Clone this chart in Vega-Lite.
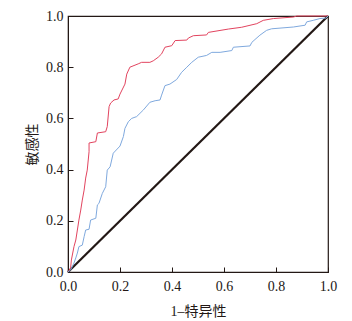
{
  "$schema": "https://vega.github.io/schema/vega-lite/v6.json",
  "width": 260,
  "height": 256,
  "autosize": {"type": "none"},
  "padding": {"left": 68, "top": 16, "right": 24, "bottom": 49},
  "background": "white",
  "config": {
    "view": {"stroke": "#231815", "strokeWidth": 1.2},
    "axis": {
      "labelFont": "Liberation Serif",
      "labelFontSize": 14,
      "labelColor": "#231815",
      "labelFlush": false,
      "labelOverlap": false,
      "titleFont": "Liberation Serif, Noto Sans CJK SC",
      "titleFontSize": 14,
      "titleFontWeight": "normal",
      "titleColor": "#231815",
      "domainColor": "#231815",
      "tickColor": "#231815",
      "grid": false
    }
  },
  "datasets": {
    "roc": [
      {"fpr": 0, "tpr": 0, "series": "A"},
      {"fpr": 0.010, "tpr": 0.016, "series": "A"},
      {"fpr": 0.013, "tpr": 0.047, "series": "A"},
      {"fpr": 0.023, "tpr": 0.099, "series": "A"},
      {"fpr": 0.030, "tpr": 0.125, "series": "A"},
      {"fpr": 0.036, "tpr": 0.164, "series": "A"},
      {"fpr": 0.042, "tpr": 0.203, "series": "A"},
      {"fpr": 0.049, "tpr": 0.242, "series": "A"},
      {"fpr": 0.055, "tpr": 0.281, "series": "A"},
      {"fpr": 0.062, "tpr": 0.320, "series": "A"},
      {"fpr": 0.068, "tpr": 0.367, "series": "A"},
      {"fpr": 0.074, "tpr": 0.398, "series": "A"},
      {"fpr": 0.081, "tpr": 0.470, "series": "A"},
      {"fpr": 0.081, "tpr": 0.504, "series": "A"},
      {"fpr": 0.107, "tpr": 0.509, "series": "A"},
      {"fpr": 0.113, "tpr": 0.543, "series": "A"},
      {"fpr": 0.145, "tpr": 0.548, "series": "A"},
      {"fpr": 0.151, "tpr": 0.568, "series": "A"},
      {"fpr": 0.158, "tpr": 0.646, "series": "A"},
      {"fpr": 0.164, "tpr": 0.660, "series": "A"},
      {"fpr": 0.177, "tpr": 0.672, "series": "A"},
      {"fpr": 0.193, "tpr": 0.676, "series": "A"},
      {"fpr": 0.200, "tpr": 0.695, "series": "A"},
      {"fpr": 0.219, "tpr": 0.734, "series": "A"},
      {"fpr": 0.226, "tpr": 0.773, "series": "A"},
      {"fpr": 0.238, "tpr": 0.800, "series": "A"},
      {"fpr": 0.270, "tpr": 0.813, "series": "A"},
      {"fpr": 0.283, "tpr": 0.819, "series": "A"},
      {"fpr": 0.315, "tpr": 0.819, "series": "A"},
      {"fpr": 0.328, "tpr": 0.825, "series": "A"},
      {"fpr": 0.347, "tpr": 0.839, "series": "A"},
      {"fpr": 0.360, "tpr": 0.852, "series": "A"},
      {"fpr": 0.373, "tpr": 0.878, "series": "A"},
      {"fpr": 0.399, "tpr": 0.884, "series": "A"},
      {"fpr": 0.412, "tpr": 0.904, "series": "A"},
      {"fpr": 0.457, "tpr": 0.906, "series": "A"},
      {"fpr": 0.463, "tpr": 0.914, "series": "A"},
      {"fpr": 0.482, "tpr": 0.923, "series": "A"},
      {"fpr": 0.533, "tpr": 0.926, "series": "A"},
      {"fpr": 0.540, "tpr": 0.936, "series": "A"},
      {"fpr": 0.617, "tpr": 0.949, "series": "A"},
      {"fpr": 0.668, "tpr": 0.956, "series": "A"},
      {"fpr": 0.726, "tpr": 0.970, "series": "A"},
      {"fpr": 0.751, "tpr": 0.983, "series": "A"},
      {"fpr": 0.790, "tpr": 0.990, "series": "A"},
      {"fpr": 0.867, "tpr": 0.996, "series": "A"},
      {"fpr": 0.880, "tpr": 1.0, "series": "A"},
      {"fpr": 1.0, "tpr": 1.0, "series": "A"},
      {"fpr": 0, "tpr": 0, "series": "B"},
      {"fpr": 0.010, "tpr": 0.008, "series": "B"},
      {"fpr": 0.023, "tpr": 0.035, "series": "B"},
      {"fpr": 0.030, "tpr": 0.055, "series": "B"},
      {"fpr": 0.036, "tpr": 0.074, "series": "B"},
      {"fpr": 0.042, "tpr": 0.099, "series": "B"},
      {"fpr": 0.055, "tpr": 0.105, "series": "B"},
      {"fpr": 0.062, "tpr": 0.138, "series": "B"},
      {"fpr": 0.068, "tpr": 0.164, "series": "B"},
      {"fpr": 0.081, "tpr": 0.167, "series": "B"},
      {"fpr": 0.087, "tpr": 0.203, "series": "B"},
      {"fpr": 0.107, "tpr": 0.210, "series": "B"},
      {"fpr": 0.113, "tpr": 0.262, "series": "B"},
      {"fpr": 0.119, "tpr": 0.268, "series": "B"},
      {"fpr": 0.132, "tpr": 0.307, "series": "B"},
      {"fpr": 0.145, "tpr": 0.333, "series": "B"},
      {"fpr": 0.151, "tpr": 0.398, "series": "B"},
      {"fpr": 0.162, "tpr": 0.411, "series": "B"},
      {"fpr": 0.174, "tpr": 0.464, "series": "B"},
      {"fpr": 0.200, "tpr": 0.492, "series": "B"},
      {"fpr": 0.213, "tpr": 0.529, "series": "B"},
      {"fpr": 0.219, "tpr": 0.561, "series": "B"},
      {"fpr": 0.232, "tpr": 0.587, "series": "B"},
      {"fpr": 0.245, "tpr": 0.600, "series": "B"},
      {"fpr": 0.264, "tpr": 0.607, "series": "B"},
      {"fpr": 0.277, "tpr": 0.620, "series": "B"},
      {"fpr": 0.290, "tpr": 0.633, "series": "B"},
      {"fpr": 0.315, "tpr": 0.663, "series": "B"},
      {"fpr": 0.335, "tpr": 0.669, "series": "B"},
      {"fpr": 0.354, "tpr": 0.672, "series": "B"},
      {"fpr": 0.360, "tpr": 0.691, "series": "B"},
      {"fpr": 0.373, "tpr": 0.728, "series": "B"},
      {"fpr": 0.392, "tpr": 0.734, "series": "B"},
      {"fpr": 0.418, "tpr": 0.752, "series": "B"},
      {"fpr": 0.437, "tpr": 0.780, "series": "B"},
      {"fpr": 0.457, "tpr": 0.800, "series": "B"},
      {"fpr": 0.476, "tpr": 0.819, "series": "B"},
      {"fpr": 0.501, "tpr": 0.839, "series": "B"},
      {"fpr": 0.533, "tpr": 0.846, "series": "B"},
      {"fpr": 0.553, "tpr": 0.858, "series": "B"},
      {"fpr": 0.585, "tpr": 0.858, "series": "B"},
      {"fpr": 0.630, "tpr": 0.865, "series": "B"},
      {"fpr": 0.636, "tpr": 0.878, "series": "B"},
      {"fpr": 0.700, "tpr": 0.883, "series": "B"},
      {"fpr": 0.707, "tpr": 0.897, "series": "B"},
      {"fpr": 0.719, "tpr": 0.908, "series": "B"},
      {"fpr": 0.738, "tpr": 0.925, "series": "B"},
      {"fpr": 0.764, "tpr": 0.944, "series": "B"},
      {"fpr": 0.783, "tpr": 0.950, "series": "B"},
      {"fpr": 0.867, "tpr": 0.957, "series": "B"},
      {"fpr": 0.912, "tpr": 0.964, "series": "B"},
      {"fpr": 0.918, "tpr": 0.977, "series": "B"},
      {"fpr": 0.943, "tpr": 0.983, "series": "B"},
      {"fpr": 0.969, "tpr": 0.990, "series": "B"},
      {"fpr": 0.992, "tpr": 0.992, "series": "B"},
      {"fpr": 1.0, "tpr": 1.0, "series": "B"}
    ],
    "diag": [
      {"fpr": 0, "tpr": 0},
      {"fpr": 1, "tpr": 1}
    ]
  },
  "layer": [
    {
      "data": {"name": "diag"},
      "mark": {"type": "line", "color": "#231815", "strokeWidth": 2.2},
      "encoding": {
        "x": {"field": "fpr", "type": "quantitative"},
        "y": {"field": "tpr", "type": "quantitative"}
      }
    },
    {
      "data": {"name": "roc"},
      "mark": {"type": "line", "strokeWidth": 1},
      "encoding": {
        "x": {
          "field": "fpr",
          "type": "quantitative",
          "scale": {"domain": [0, 1], "nice": false},
          "axis": {
            "title": "1–特异性",
            "values": [0, 0.2, 0.4, 0.6, 0.8, 1.0],
            "format": ".1f",
            "tickSize": -5,
            "labelPadding": 12,
            "titleY": 39,
            "titleBaseline": "middle"
          }
        },
        "y": {
          "field": "tpr",
          "type": "quantitative",
          "scale": {"domain": [0, 1], "nice": false},
          "axis": {
            "title": "敏感性",
            "values": [0, 0.2, 0.4, 0.6, 0.8, 1.0],
            "format": ".1f",
            "tickSize": -5,
            "labelPadding": 10,
            "titleX": -36,
            "titleY": 128,
            "titleBaseline": "middle"
          }
        },
        "color": {
          "field": "series",
          "type": "nominal",
          "scale": {"domain": ["A", "B"], "range": ["#e2445f", "#7fa9de"]},
          "legend": null
        },
        "order": {"field": "fpr", "type": "quantitative"}
      }
    }
  ]
}
